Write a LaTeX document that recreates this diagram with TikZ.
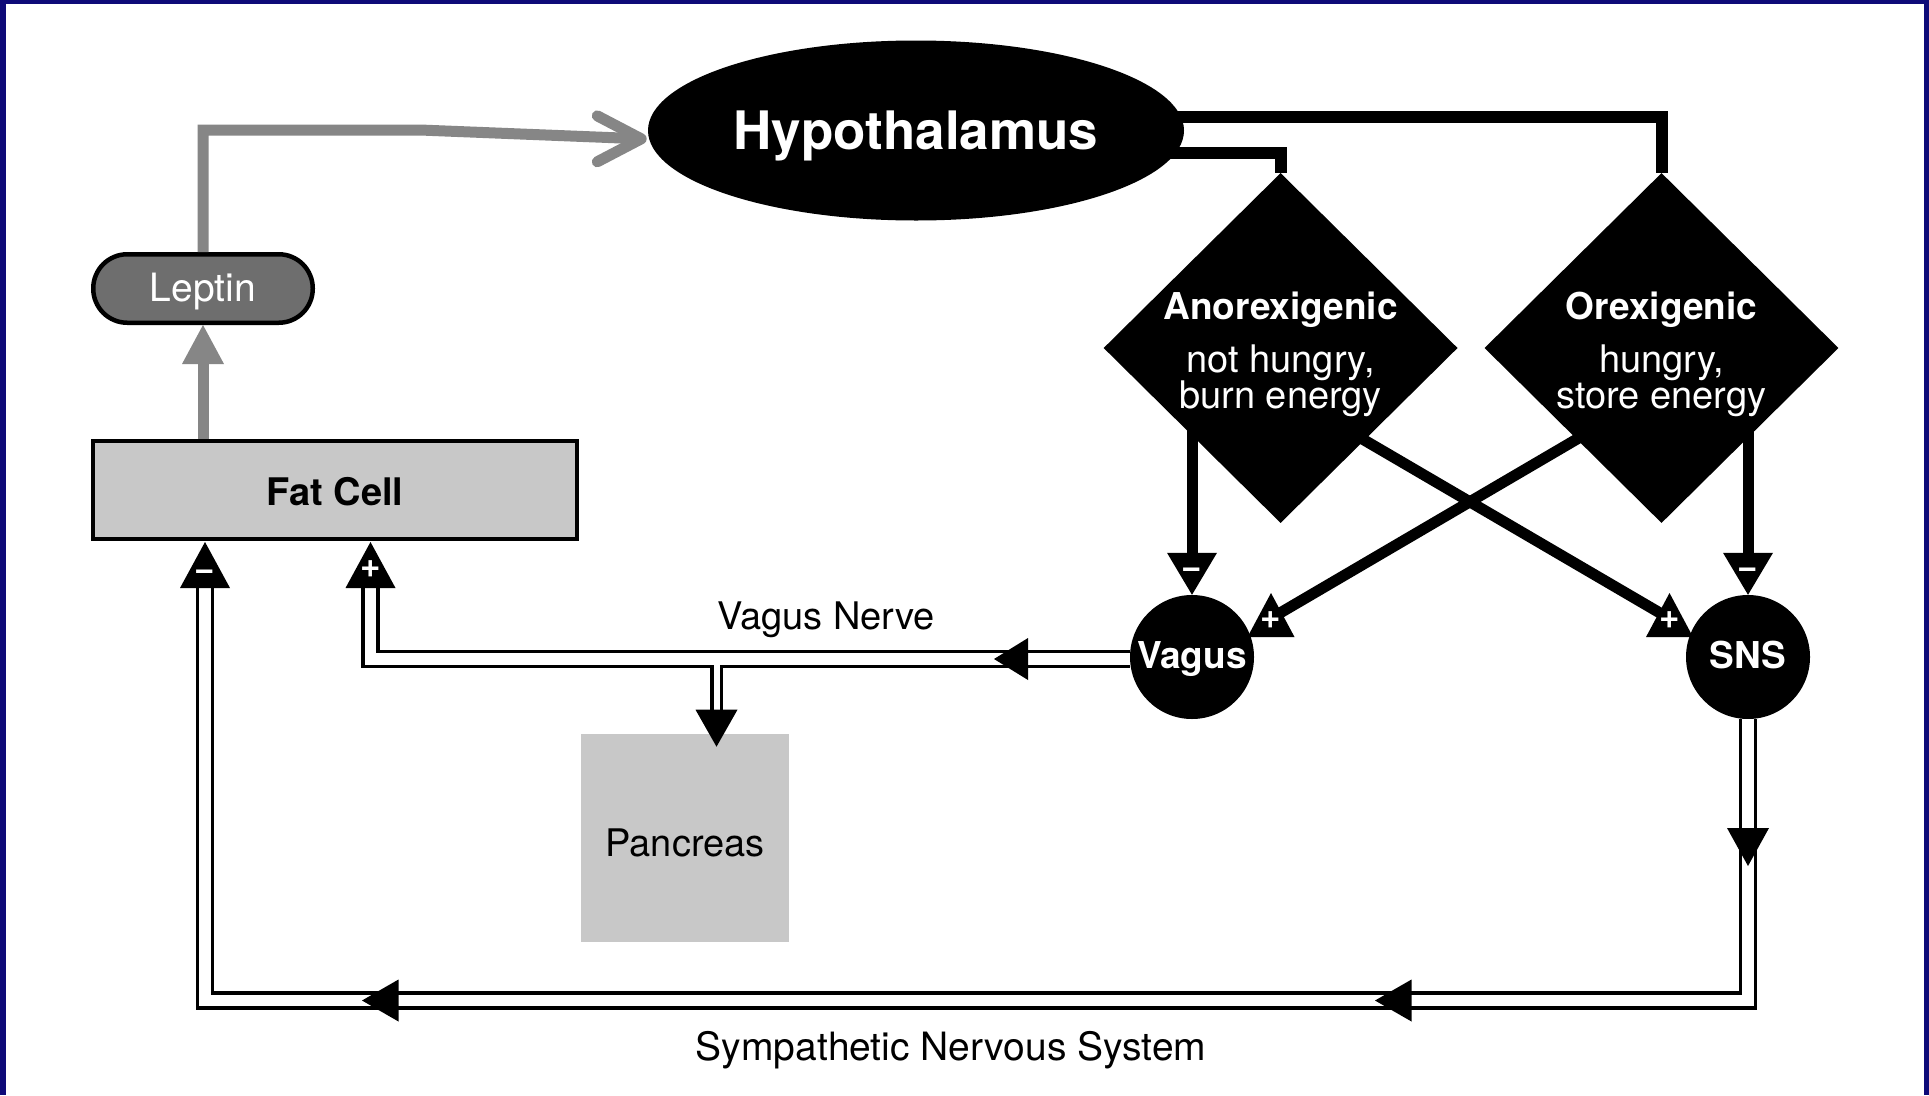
\documentclass[tikz,border=0pt]{standalone}
\usepackage{fontspec}
\setmainfont{TeX Gyre Heros}
\usetikzlibrary{shapes.geometric,calc}
\definecolor{navy}{RGB}{14,10,120}
\definecolor{boxgray}{RGB}{200,200,200}
\definecolor{lepgray}{RGB}{110,110,110}
\definecolor{lngray}{RGB}{134,134,134}
\newcommand\fsz[1]{\fontsize{#1}{#1}\selectfont}
\begin{document}
\begin{tikzpicture}[x=1pt,y=-1pt,
  lbl/.style={inner sep=0pt, anchor=base},
  sgn/.style={text=white, inner sep=0pt, anchor=base, font=\bfseries\fsz{35}},
  blk/.style={draw=black, line width=12pt},
  blkt/.style={draw=black, line width=11pt},
  dbl/.style={draw=black, line width=3.5pt, double=white, double distance=11.5pt},
  dbls/.style={draw=black, line width=3.3pt, double=white, double distance=6pt},
  gln/.style={draw=lngray, line width=11pt},
]
\useasboundingbox (0,0) rectangle (1929,1095);
\fill[white] (0,0) rectangle (1929,1095);
\fill[navy] (0,0) rectangle (6,1095);
\fill[navy] (0,0) rectangle (1929,4);
\fill[navy] (1924,0) rectangle (1929,1095);

% shapes
\node[ellipse, fill=black, inner sep=0pt, minimum width=536pt, minimum height=180pt] (hyp) at (916,130.5) {};
\node[diamond, fill=black, inner sep=0pt, minimum width=354pt, minimum height=350pt] (anor) at (1280.6,348) {};
\node[diamond, fill=black, inner sep=0pt, minimum width=354pt, minimum height=350pt] (orex) at (1661.5,348) {};
\node[circle, fill=black, inner sep=0pt, minimum size=124pt] (vagus) at (1192,657) {};
\node[circle, fill=black, inner sep=0pt, minimum size=124pt] (sns) at (1748,657) {};
\node[draw=black, line width=4.5pt, fill=lepgray, rounded corners=34pt, inner sep=0pt, minimum width=219.5pt, minimum height=68.5pt] (leptin) at (203,288.5) {};
\node[draw=black, line width=4pt, fill=boxgray, inner sep=0pt, minimum width=483.5pt, minimum height=98pt] (fat) at (335.2,490) {};
\node[fill=boxgray, inner sep=0pt, minimum width=208pt, minimum height=208pt] (panc) at (685,838) {};

\coordinate (fmn) at (205,542);
\coordinate (fpl) at (370.5,542);
\coordinate (hyptip) at ($(hyp.182)+(-8,-1)$);
\coordinate (lcorner) at (203,130);
\coordinate (lbend) at (420,130);
\coordinate (sbot) at (205,1000.5);

% gray connectors
\draw[gln] (leptin.south |- fat.north) -- ([yshift=-38pt]leptin.south);
\fill[lngray] (leptin.south) -- ++(21,39) -- ++(-42,0) -- cycle;
\draw[gln, line join=miter] (leptin.north) -- (lcorner) -- (lbend) -- (hyptip);
\draw[gln, line cap=round, line join=round] ($(hyptip)+(-44,-23)$) -- (hyptip) -- ($(hyptip)+(-44,23)$);

% hypothalamus outputs
\draw[blk] ([xshift=-20pt,yshift=13.5pt]hyp.east) -| (orex.north);
\draw[blk] ([xshift=-30pt,yshift=-22pt]hyp.east) -| (anor.north);

% inhibitory inputs
\draw[blkt] (vagus.north |- anor.center) -- ([yshift=42pt]vagus.north);
\fill (vagus.north) -- ++(-25,-42) -- ++(50,0) -- cycle;
\draw[blkt] (sns.north |- orex.center) -- ([yshift=42pt]sns.north);
\fill (sns.north) -- ++(-25,-42) -- ++(50,0) -- cycle;

% excitatory inputs
\draw[blkt] ($(orex.center)+(-52,72)$) -- ($(vagus.center)+(88,-44)$);
\draw[blkt] ($(anor.center)+(51,73)$) -- ($(sns.center)+(-88,-44)$);
\fill ($(vagus.center)+(79,-64)$) -- ++(23.5,44) -- ++(-47,0) -- cycle;
\fill ($(sns.center)+(-78.5,-64)$) -- ++(23.5,44) -- ++(-47,0) -- cycle;

% nerves
\draw[dbl] ([yshift=-2pt]vagus.west) -| ([yshift=-46pt]fpl);
\draw[dbls] (716.5,665) -- (716.5,710);
\draw[dbl] (sns.south) |- (sbot) -- ([yshift=-46pt]fmn);

% arrow heads
\fill (994,659) -- ++(34,-21) -- ++(0,42) -- cycle;
\fill (1748,866) -- ++(-21,-38) -- ++(42,0) -- cycle;
\fill (1375,1000.5) -- ++(36.5,-21) -- ++(0,42) -- cycle;
\fill (362,1000.5) -- ++(36.5,-21) -- ++(0,42) -- cycle;
\fill (716.5,746.7) -- ++(-21,-37) -- ++(42,0) -- cycle;
\fill (fmn) -- ++(25,46) -- ++(-50,0) -- cycle;
\fill (fpl) -- ++(25,46) -- ++(-50,0) -- cycle;

% signs
\node[sgn] (s1) at (205,580.9) {−};
\node[sgn] (s2) at (370.5,577.9) {+};
\node[sgn] (s3) at (1191.5,578.4) {−};
\node[sgn] (s4) at (1748,578.4) {−};
\node[sgn] (s5) at (1271,628.9) {+};
\node[sgn] (s6) at (1669.5,628.9) {+};

% labels
\node[lbl, text=white, font=\bfseries\fsz{53}] (hyplbl) at (916,149) {Hypothalamus};
\node[lbl, text=white, font=\fsz{39}] (leplbl) at (203,301) {Leptin};
\node[lbl, font=\bfseries\fsz{38}] (fatlbl) at (335,505) {Fat Cell};
\node[lbl, text=white, font=\bfseries\fsz{37}] (vaglbl) at (1192,668) {Vagus};
\node[lbl, text=white, font=\bfseries\fsz{37}] (snslbl) at (1748,668) {SNS};
\node[lbl, font=\fsz{38}] (panlbl) at (685,856) {Pancreas};
\node[lbl, font=\fsz{38}] (vnlbl) at (826,629) {Vagus Nerve};
\node[lbl, font=\fsz{39}] (symlbl) at (951,1060) {Sympathetic Nervous System};
\node[lbl, text=white, font=\bfseries\fsz{37}] (anl1) at (1280.6,319) {Anorexigenic};
\node[lbl, text=white, font=\fsz{38}] (anl2) at (1280.6,372) {not hungry,};
\node[lbl, text=white, font=\fsz{38}] (anl3) at (1280.6,408) {burn energy};
\node[lbl, text=white, font=\bfseries\fsz{37}] (orl1) at (1661.5,319) {Orexigenic};
\node[lbl, text=white, font=\fsz{38}] (orl2) at (1661.5,372) {hungry,};
\node[lbl, text=white, font=\fsz{38}] (orl3) at (1661.5,408) {store energy};
\end{tikzpicture}
\end{document}
